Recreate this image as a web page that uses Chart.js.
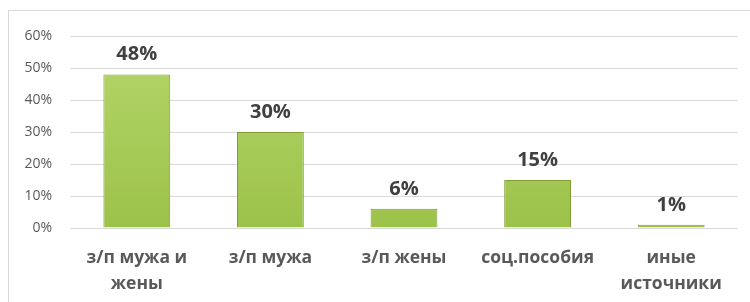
<!DOCTYPE html>
<html>
<head>
<meta charset="utf-8">
<script src="https://cdn.jsdelivr.net/npm/chart.js@4.4.0/dist/chart.umd.min.js"></script>
<style>
  html, body { margin: 0; padding: 0; background: #fff; }
  #wrap { position: relative; width: 750px; height: 302px; overflow: hidden; }
  #frame { position: absolute; left: 8px; top: 10px; width: 800px; height: 400px; border: 1px solid #d9d9d9; }
  #myChart { position: absolute; left: 0; top: 0; }
</style>
</head>
<body>
<div id="wrap">
  <div id="frame"></div>
  <canvas id="myChart" width="750" height="302"></canvas>
</div>
<script>
const categories = [["з/п мужа и", "жены"], "з/п мужа", "з/п жены", "соц.пособия", ["иные", "источники"]]
const shares = [48, 30, 6, 15, 1]
const yTicks = [0, 10, 20, 30, 40, 50, 60]

const valueLabels = {
  id: "valueLabels",
  afterDatasetsDraw(chart) {
    const c = chart.ctx
    c.save()
    c.font = "bold 20px 'Open Sans'"
    c.fillStyle = "#404040"
    c.textAlign = "center"
    c.textBaseline = "middle"
    chart.getDatasetMeta(0).data.forEach(function (bar, i) {
      c.fillText(shares[i] + "%", bar.x, bar.y - 20)
    })
    c.restore()
  }
}

const ctx = document.getElementById("myChart")

new Chart(ctx, {
  type: "bar",
  data: {
    labels: categories,
    datasets: [{
      data: shares,
      backgroundColor: function (context) {
        const area = context.chart.chartArea
        if (!area) return "#a8cb58"
        const g = context.chart.ctx.createLinearGradient(0, area.top, 0, area.bottom)
        g.addColorStop(0, "#b4d66a")
        g.addColorStop(1, "#9dc24a")
        return g
      },
      borderColor: "#7f9e35",
      borderWidth: 1,
      barPercentage: 0.5,
      categoryPercentage: 1
    }]
  },
  plugins: [valueLabels],
  options: {
    responsive: false,
    animation: false,
    layout: { padding: { left: 0, right: 12, top: 36, bottom: 0 } },
    plugins: { legend: { display: false }, tooltip: { enabled: false } },
    scales: {
      x: {
        grid: { display: false },
        border: { display: false },
        ticks: {
          color: "#595959",
          font: { family: "'Open Sans'", size: 17.5, weight: "bold", lineHeight: "26px" },
          padding: 9,
          maxRotation: 0
        },
        afterFit: function (s) { s.height = 74 }
      },
      y: {
        min: 0,
        max: 60,
        afterBuildTicks: function (s) { s.ticks = yTicks.map(v => ({ value: v })) },
        grid: { color: "#d9d9d9", drawTicks: false },
        border: { display: false },
        ticks: {
          color: "#595959",
          font: { family: "'Open Sans'", size: 14 },
          padding: 18,
          callback: v => v + "%"
        },
        afterFit: function (s) { s.width = 70 }
      }
    }
  }
})
</script>
</body>
</html>
